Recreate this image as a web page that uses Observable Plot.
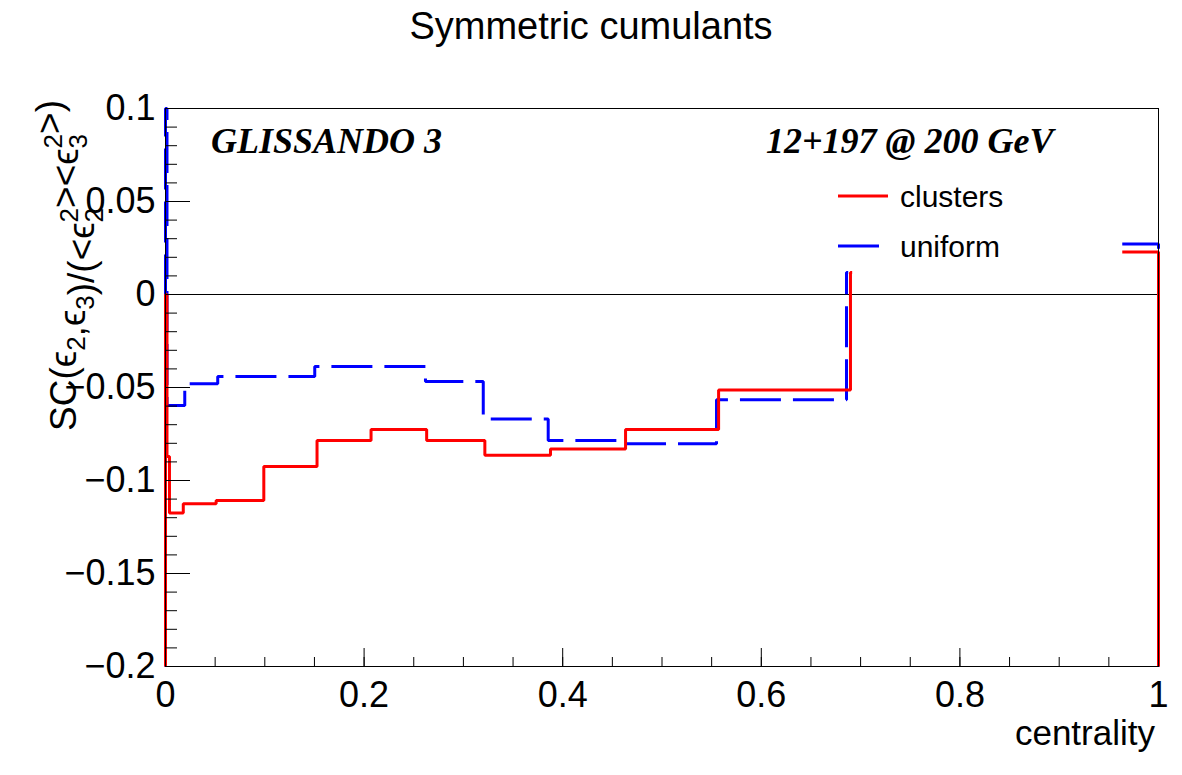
<!DOCTYPE html>
<html>
<head>
<meta charset="utf-8">
<script src="https://cdn.jsdelivr.net/npm/d3@7"></script>
<script src="https://cdn.jsdelivr.net/npm/@observablehq/plot@0.6"></script>
<style>
  body { margin: 0; background: #fff; }
  #chart { width: 1182px; height: 775px; }
</style>
</head>
<body>
<div id="chart"></div>
<script>
// Histogram bin edges (centrality) and bin contents, SC(e2,e3) normalised.
// NaN marks bins with no drawn content.
const clusterEdges  = [0, 0.0015, 0.004, 0.0179, 0.051, 0.099, 0.1526, 0.207, 0.263, 0.3216, 0.3877, 0.4633, 0.557, 0.6898, 0.6915, 0.9635, 1.0];
const clusterValues = [0, -0.0871, -0.1175, -0.1125, -0.1108, -0.0925, -0.0785, -0.0726, -0.0785, -0.0864, -0.0830, -0.0726, -0.0513, 0.0118, NaN, 0.0228];

const uniformEdges  = [0, 0.0015, 0.0194, 0.0526, 0.1503, 0.2618, 0.3200, 0.3854, 0.4616, 0.5549, 0.6858, 0.6875, 0.9635, 1.0];
const uniformValues = [0.2, -0.0597, -0.0480, -0.0441, -0.0387, -0.0468, -0.0670, -0.0785, -0.0803, -0.0566, 0.0118, NaN, 0.0272];

const xTicks = [0, 0.2, 0.4, 0.6, 0.8, 1];
const xMinorTicks = d3.range(0, 1.0001, 0.05);
const yTicks = [0.1, 0.05, 0, -0.05, -0.1, -0.15, -0.2];
const yMinorTicks = d3.range(-0.2, 0.1001, 0.01);
const yDomain = [-0.2, 0.1];

const W = 1182, H = 775;
const M = {top: 108, right: 24, bottom: 109, left: 165};
const plotW = W - M.left - M.right;
const plotH = H - M.top - M.bottom;

// Histogram outline: rises from the frame floor, steps across every bin, falls back at the end.
function outline(edges, values) {
  const pts = [{x: edges[0], y: yDomain[0]}];
  values.forEach((v, i) => {
    pts.push({x: edges[i], y: v});
    pts.push({x: edges[i + 1], y: v});
  });
  pts.push({x: edges[edges.length - 1], y: yDomain[0]});
  return pts;
}
const clusterPts = outline(clusterEdges, clusterValues);
const uniformPts = outline(uniformEdges, uniformValues);

const fmt = d3.format("");
const sans = "'Liberation Sans', Arial, sans-serif";
const serif = "'Liberation Serif', 'Times New Roman', serif";

const plot = Plot.plot({
  width: W,
  height: H,
  marginTop: M.top,
  marginRight: M.right,
  marginBottom: M.bottom,
  marginLeft: M.left,
  style: {background: "white", color: "black", fontFamily: sans},
  x: {domain: [0, 1]},
  y: {domain: yDomain, clamp: true},
  marks: [
    Plot.ruleY([0], {stroke: "black", strokeWidth: 1}),
    Plot.line(uniformPts, {x: "x", y: "y", stroke: "#0000ff", strokeWidth: 3,
      strokeDasharray: "41,12", strokeLinejoin: "miter", strokeLinecap: "butt", curve: "linear"}),
    Plot.line(clusterPts, {x: "x", y: "y", stroke: "#ff0000", strokeWidth: 3,
      strokeLinejoin: "miter", strokeLinecap: "butt", curve: "linear"}),
    // inward ticks, ROOT style
    Plot.ruleX(xMinorTicks, {x: d => d, stroke: "black", strokeWidth: 1, insetTop: plotH - 9}),
    Plot.ruleX(xTicks, {x: d => d, stroke: "black", strokeWidth: 1, insetTop: plotH - 18}),
    Plot.ruleY(yMinorTicks, {y: d => d, stroke: "black", strokeWidth: 1, insetRight: plotW - 12}),
    Plot.ruleY(yTicks, {y: d => d, stroke: "black", strokeWidth: 1, insetRight: plotW - 25}),
    Plot.frame({stroke: "black", strokeWidth: 1}),
    Plot.axisX(xTicks, {tickSize: 0, tickPadding: 15, fontSize: 36, tickFormat: fmt, label: null}),
    Plot.axisY(yTicks, {tickSize: 0, tickPadding: 10, fontSize: 36, tickFormat: fmt, label: null})
  ]
});
document.getElementById("chart").appendChild(plot);

const svg = d3.select(plot);

function addText(x, y, str, size, anchor, family, extra = {}) {
  const t = svg.append("text")
    .attr("x", x).attr("y", y)
    .style("text-anchor", anchor)
    .style("font-family", family)
    .style("font-size", size + "px")
    .style("fill", "black");
  if (extra.bold) t.style("font-weight", "bold");
  if (extra.italic) t.style("font-style", "italic");
  t.text(str);
  return t;
}

// Title and x-axis title
addText(591, 39, "Symmetric cumulants", 38, "middle", sans);
addText(1155, 745, "centrality", 35, "end", sans);

// Axis title (y) with sub- and superscripts
const yl = svg.append("text")
  .attr("transform", "translate(76,100) rotate(-90)")
  .style("text-anchor", "end")
  .style("font-family", sans)
  .style("font-size", "37px")
  .style("fill", "black");
const eps = "\u03F5";
function sub(t) {
  yl.append("tspan").style("font-size", "26px").attr("dy", 9).text(t);
  yl.append("tspan").attr("dy", -9).text("");
}
function subsup(s, p) {
  yl.append("tspan").style("font-size", "26px").attr("dy", 9).text(s);
  yl.append("tspan").style("font-size", "26px").attr("dx", -14.5).attr("dy", -25).text(p);
  yl.append("tspan").attr("dy", 16).text("");
}
yl.append("tspan").text("SC(" + eps);
sub("2");
yl.append("tspan").text("," + eps);
sub("3");
yl.append("tspan").text(")/(<" + eps);
subsup("2", "2");
yl.append("tspan").text("><" + eps);
subsup("3", "2");
yl.append("tspan").text(">)");

// Annotations
addText(211, 153, "GLISSANDO 3", 36, "start", serif, {bold: true, italic: true});
addText(766, 153, "12+197 @ 200 GeV", 36, "start", serif, {bold: true, italic: true});

// Legend
const legendItems = [
  {label: "clusters", color: "#ff0000", dash: null, y: 196},
  {label: "uniform", color: "#0000ff", dash: "41,12", y: 246}
];
legendItems.forEach(d => {
  svg.append("line")
    .attr("x1", 838).attr("x2", 888).attr("y1", d.y).attr("y2", d.y)
    .attr("stroke", d.color).attr("stroke-width", 3)
    .attr("stroke-dasharray", d.dash);
  addText(900, d.y + 11, d.label, 30, "start", sans);
});
</script>
</body>
</html>
